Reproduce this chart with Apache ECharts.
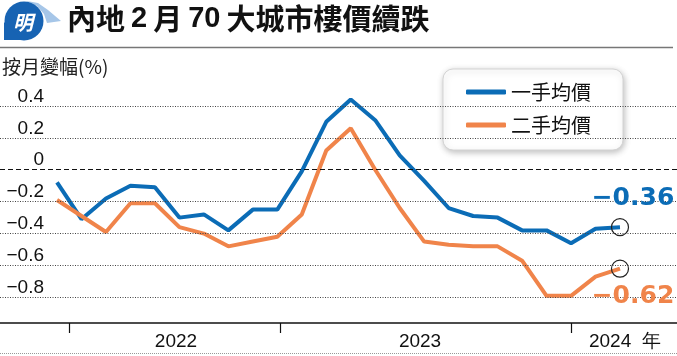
<!DOCTYPE html>
<html><head><meta charset="utf-8">
<script src="https://cdn.jsdelivr.net/npm/echarts@6/dist/echarts.min.js"></script>
<style>html,body{margin:0;padding:0;background:#fff}#c{width:677px;height:356px}</style>
</head><body><div id="c"></div>
<script>
// ---- data ----
const months = ['2022-03','2022-04','2022-05','2022-06','2022-07','2022-08','2022-09','2022-10','2022-11','2022-12',
  '2023-01','2023-02','2023-03','2023-04','2023-05','2023-06','2023-07','2023-08','2023-09','2023-10','2023-11','2023-12',
  '2024-01','2024-02'];
const newHome = [-0.08,-0.31,-0.18,-0.10,-0.11,-0.30,-0.28,-0.38,-0.25,-0.25,
  -0.01,0.30,0.44,0.31,0.09,-0.07,-0.24,-0.29,-0.30,-0.38,-0.38,-0.46,
  -0.37,-0.36];
const secondHand = [-0.19,-0.29,-0.39,-0.21,-0.21,-0.36,-0.40,-0.48,-0.45,-0.42,
  -0.28,0.12,0.26,0.00,-0.24,-0.45,-0.47,-0.48,-0.48,-0.57,-0.79,-0.79,
  -0.67,-0.62];
const seriesNames = ['一手均價','二手均價'];
const yTicks = [-0.8,-0.6,-0.4,-0.2,0,0.2,0.4];
const yearLabels = ['2022','2023','2024  年'];
const yearLabelPos = [4.86, 14.83, 23.2];
const yearTickPos = [0.48, 9.1, 21.0];

const BLUE = '#0b6cb6', ORANGE = '#f0844a';
const fmtVal = v => v === 0 ? '0' : (v < 0 ? '\u2212' : '') + Math.abs(v).toFixed(1);
const fmtEnd = v => (v < 0 ? '\u2212' : '') + Math.abs(v).toFixed(2);
const last = months.length - 1;

const chart = echarts.init(document.getElementById('c'), null, {renderer: 'canvas'});
chart.setOption({
  animation: false,
  backgroundColor: '#fff',
  title: [
    { text: '內地{d|2}月{d|70}大城市樓價續跌', left: 67, top: 4, padding: 0,
      textStyle: { fontSize: 29, fontWeight: 'bold', color: '#111', fontFamily: 'Noto Sans CJK TC',
        rich: { d: { fontSize: 29, fontWeight: 'bold', color: '#111', fontFamily: 'Liberation Sans', padding: [0, 6, 0, 6] } } } },
    { text: '按月變幅(%)', left: 2, top: 57, padding: 0,
      textStyle: { fontSize: 19, fontWeight: 'normal', color: '#222', fontFamily: 'Noto Sans CJK TC' } }
  ],
  legend: {
    data: seriesNames, orient: 'vertical', left: 443, top: 69,
    padding: [13, 32, 15, 23], itemGap: 13, itemWidth: 40, itemHeight: 5, icon: 'roundRect',
    backgroundColor: '#fff', borderColor: '#d4d4d4', borderWidth: 1, borderRadius: 10,
    shadowColor: 'rgba(0,0,0,0.25)', shadowBlur: 6, shadowOffsetX: 1, shadowOffsetY: 2,
    selectedMode: false,
    textStyle: { fontSize: 20, lineHeight: 20, color: '#111', fontFamily: 'Noto Sans CJK TC' }
  },
  grid: { left: 0, right: 0, top: 60, bottom: 33, containLabel: false },
  xAxis: {
    type: 'value', min: -2.329, max: 25.329,
    axisLine: { show: true, onZero: false, lineStyle: { color: '#111', width: 1.5 } },
    axisTick: { show: true, customValues: yearTickPos, length: 10, lineStyle: { color: '#111', width: 1.2 } },
    axisLabel: { customValues: yearLabelPos, margin: 9, fontSize: 19, color: '#111', fontFamily: 'Liberation Sans',
      formatter: v => { let b = 0; yearLabelPos.forEach((p, i) => { if (Math.abs(p - v) < Math.abs(yearLabelPos[b] - v)) b = i; }); return yearLabels[b]; } },
    splitLine: { show: false }
  },
  yAxis: {
    type: 'value', min: -0.96, max: 0.687,
    axisLine: { show: false }, axisTick: { show: false }, splitLine: { show: false },
    axisLabel: { customValues: yTicks, inside: true, align: 'right', margin: 44, verticalAlign: 'bottom',
      fontSize: 19, lineHeight: 19, color: '#111', fontFamily: 'Liberation Sans', formatter: fmtVal }
  },
  graphic: [
    { type: 'polygon', shape: { points: [[27,1],[38,3],[48,10],[61,21],[47,23],[44,14],[37,6]] }, style: { fill: '#a6c6e8' }, z: 10 },
    { type: 'circle', shape: { cx: 24, cy: 21, r: 19.5 }, style: { fill: '#1763b3' }, z: 11 },
    { type: 'polygon', shape: { points: [[4,22],[4,40],[22,40]] }, style: { fill: '#1763b3' }, z: 11 },
    { type: 'text', x: 23, y: 22, style: { text: '明', fill: '#fff', font: 'italic bold 20px "Noto Sans CJK TC"', textAlign: 'center', textVerticalAlign: 'middle' }, z: 12 },
    { type: 'line', shape: { x1: 0, y1: 47.5, x2: 673, y2: 47.5 }, style: { stroke: '#777', lineWidth: 1.5 }, z: 10 },
    { type: 'line', shape: { x1: 0, y1: 353.5, x2: 677, y2: 353.5 }, style: { stroke: '#999', lineWidth: 1, lineDash: [1, 1] }, z: 10 }
  ],
  series: [
    { name: 'grid', type: 'line', data: [], z: 1, silent: true,
      markLine: { silent: true, symbol: ['none', 'none'], label: { show: false }, animation: false,
        data: yTicks.map(v => ({ yAxis: v, lineStyle: v === 0 ? { type: [5, 3], color: '#111', width: 1.2 } : { type: [1, 1.5], color: '#444', width: 1 } })) } },
    { name: seriesNames[0], type: 'line', z: 3, data: newHome.map((v, i) => [i, v]), showSymbol: false, symbol: 'none',
      color: BLUE, lineStyle: { color: BLUE, width: 4 },
      markPoint: { symbol: 'circle', symbolSize: 17, itemStyle: { color: 'rgba(0,0,0,0)', borderColor: '#222', borderWidth: 1.2 },
        label: { show: true, position: 'inside', offset: [13, -29], formatter: p => fmtEnd(p.value), color: BLUE, fontSize: 25, fontWeight: 'bold', fontFamily: 'DejaVu Sans' },
        data: [{ coord: [last, newHome[last]], value: newHome[last] }] } },
    { name: seriesNames[1], type: 'line', z: 3, data: secondHand.map((v, i) => [i, v]), showSymbol: false, symbol: 'none',
      color: ORANGE, lineStyle: { color: ORANGE, width: 4 },
      markPoint: { symbol: 'circle', symbolSize: 17, itemStyle: { color: 'rgba(0,0,0,0)', borderColor: '#222', borderWidth: 1.2 },
        label: { show: true, position: 'inside', offset: [13, 28], formatter: p => fmtEnd(p.value), color: ORANGE, fontSize: 25, fontWeight: 'bold', fontFamily: 'DejaVu Sans' },
        data: [{ coord: [last, secondHand[last]], value: secondHand[last] }] } }
  ]
});
</script></body></html>
